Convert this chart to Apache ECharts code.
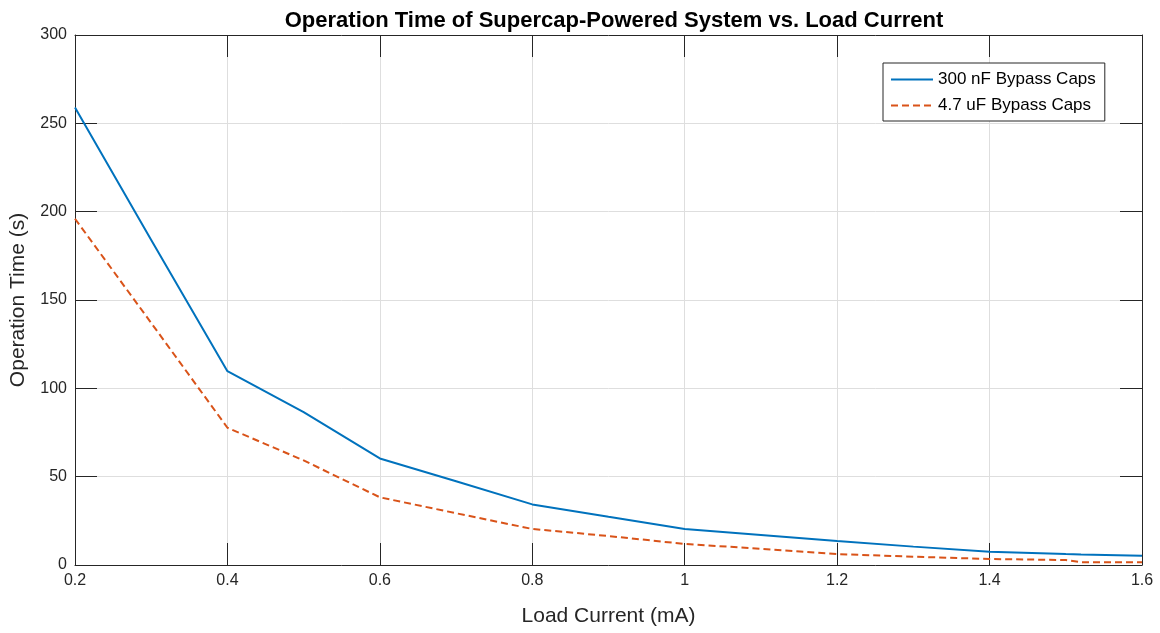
<!DOCTYPE html>
<html>
<head>
<meta charset="utf-8">
<script src="https://cdn.jsdelivr.net/npm/echarts@6/dist/echarts.min.js"></script>
<style>html,body{margin:0;padding:0;background:#fff}#c{width:1160px;height:633px}</style>
</head>
<body>
<div id="c"></div>
<script>
const loadCurrent = [0.2, 0.3, 0.4, 0.5, 0.6, 0.7, 0.8, 0.9, 1.0, 1.1, 1.2, 1.3, 1.4, 1.5, 1.52, 1.6];
const bypass300nF = [259, 184, 109.7, 86.5, 60.3, 47.4, 34.3, 27.3, 20.4, 17.0, 13.6, 10.4, 7.5, 6.2, 6.0, 5.3];
const bypass4u7F  = [196, 137, 77.7, 59.2, 38.3, 29.3, 20.4, 16.4, 11.9, 9.2, 6.2, 4.7, 3.4, 2.8, 1.6, 1.5];
const xTicks = [0.2, 0.4, 0.6, 0.8, 1, 1.2, 1.4, 1.6];
const yTicks = [0, 50, 100, 150, 200, 250, 300];
const seriesNames = ['300 nF Bypass Caps', '4.7 uF Bypass Caps'];
const titleText = 'Operation Time of Supercap-Powered System vs. Load Current';
const xName = 'Load Current (mA)';
const yName = 'Operation Time (s)';

const font = 'Liberation Sans, Arial, sans-serif';
const axisCol = '#262626';
const chart = echarts.init(document.getElementById('c'));
const baseX = {
  type: 'value', min: xTicks[0], max: xTicks[xTicks.length-1], interval: 0.2,
  axisLine: {show: true, onZero: false, lineStyle: {color: axisCol, width: 1}},
  axisTick: {show: true, inside: true, length: 22, lineStyle: {color: axisCol}},
  splitLine: {show: false}
};
const baseY = {
  type: 'value', min: yTicks[0], max: yTicks[yTicks.length-1], interval: 50,
  axisLine: {show: true, onZero: false, lineStyle: {color: axisCol, width: 1}},
  axisTick: {show: true, inside: true, length: 22, lineStyle: {color: axisCol}},
  splitLine: {show: false}
};
chart.setOption({
  animation: false,
  backgroundColor: '#fff',
  title: {
    text: titleText, left: 609, top: 5, textAlign: 'center',
    textStyle: {fontFamily: font, fontSize: 22, fontWeight: 'bold', color: '#000'}
  },
  grid: {left: 75, right: 18, top: 35, bottom: 68},
  legend: {
    orient: 'vertical', left: 883, top: 63, itemWidth: 42, itemHeight: 12, itemGap: 9,
    padding: [8, 9, 7, 7], borderColor: '#262626', borderWidth: 1, backgroundColor: '#fff',
    itemStyle: {opacity: 0},
    textStyle: {fontFamily: font, fontSize: 17, color: '#000'},
    data: seriesNames
  },
  xAxis: [
    Object.assign({}, baseX, {
      position: 'bottom',
      name: xName, nameLocation: 'middle', nameGap: 41,
      nameTextStyle: {fontFamily: font, fontSize: 21, color: axisCol},
      axisLabel: {fontFamily: font, fontSize: 16, color: axisCol, margin: 8,
        formatter: v => String(Math.round(v * 10) / 10)},
      splitLine: {show: true, lineStyle: {color: '#dedede', width: 1}}
    }),
    Object.assign({}, baseX, {position: 'top', axisLabel: {show: false}})
  ],
  yAxis: [
    Object.assign({}, baseY, {
      position: 'left',
      name: yName, nameLocation: 'middle', nameGap: 46,
      nameTextStyle: {fontFamily: font, fontSize: 21, color: axisCol},
      axisLabel: {fontFamily: font, fontSize: 16, color: axisCol, margin: 8},
      splitLine: {show: true, lineStyle: {color: '#dedede', width: 1}}
    }),
    Object.assign({}, baseY, {position: 'right', axisLabel: {show: false}})
  ],
  series: [
    {
      name: seriesNames[0], type: 'line', symbol: 'none', xAxisIndex: 0, yAxisIndex: 0,
      data: loadCurrent.map((x, i) => [x, bypass300nF[i]]),
      lineStyle: {color: '#0072BD', width: 2}, itemStyle: {color: '#0072BD'}
    },
    {
      name: seriesNames[1], type: 'line', symbol: 'none', xAxisIndex: 0, yAxisIndex: 0,
      data: loadCurrent.map((x, i) => [x, bypass4u7F[i]]),
      lineStyle: {color: '#D95319', width: 2, type: [7, 4]}, itemStyle: {color: '#D95319'}
    }
  ]
});
</script>
</body>
</html>
